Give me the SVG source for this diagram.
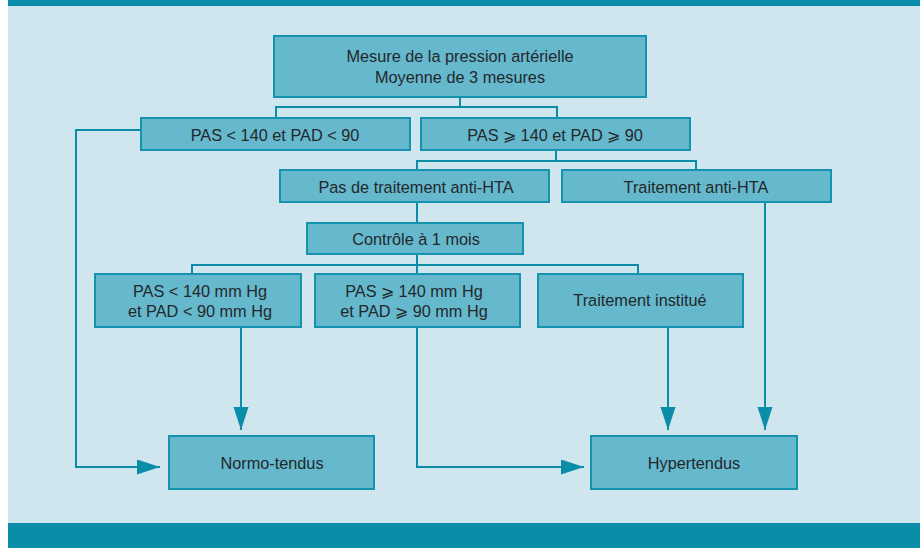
<svg xmlns="http://www.w3.org/2000/svg" width="920" height="548" viewBox="0 0 920 548">
<style>
.box{fill:#66b8cd;stroke:#1592ad;stroke-width:2}
.t{font-family:"Liberation Sans",Arial,sans-serif;font-size:16.3px;fill:#23282b;text-anchor:middle}
.c{fill:none;stroke:#0b8ca8;stroke-width:2}
</style>
<defs>
<marker id="ah" markerUnits="userSpaceOnUse" markerWidth="24" markerHeight="16" refX="23" refY="7.5" orient="auto">
<path d="M0,0 L23,7.5 L0,15 Z" fill="#0b8ca8"/>
</marker>
</defs>
<rect x="0" y="0" width="920" height="548" fill="#ffffff"/>
<rect x="8" y="6" width="912" height="517" fill="#cfe6ee"/>
<rect x="8" y="0" width="912" height="6" fill="#0b8ca8"/>
<rect x="8" y="523" width="912" height="25" fill="#0b8ca8"/>
<g id="connectors">
<path class="c" d="M460,98 V107 M276,118 V107 H557 V118"/>
<path class="c" d="M556,151 V161 M417,170 V161 H696 V170"/>
<path class="c" d="M417,203 V223"/>
<path class="c" d="M417,255 V274 M192,274 V265 H638 V274"/>
<path class="c" d="M140,130 H76 V467 H160" marker-end="url(#ah)"/>
<path class="c" d="M417,328 V467 H584" marker-end="url(#ah)"/>
<path class="c" d="M241,328 V430" marker-end="url(#ah)"/>
<path class="c" d="M668,328 V430" marker-end="url(#ah)"/>
<path class="c" d="M765,203 V430" marker-end="url(#ah)"/>
</g>
<g id="mesure"><rect class="box" x="274" y="36" width="372" height="61"/><text class="t" x="460" y="62">Mesure de la pression artérielle</text><text class="t" x="460" y="83">Moyenne de 3 mesures</text></g>
<g id="pas-bas"><rect class="box" x="141" y="118" width="269" height="32"/><text class="t" x="275" y="141">PAS &lt; 140 et PAD &lt; 90</text></g>
<g id="pas-haut"><rect class="box" x="421" y="118" width="269" height="32"/><text class="t" x="555" y="141">PAS ⩾ 140 et PAD ⩾ 90</text></g>
<g id="pas-traitement"><rect class="box" x="280" y="170" width="269" height="32"/><text class="t" x="416" y="193">Pas de traitement anti-HTA</text></g>
<g id="traitement"><rect class="box" x="562" y="170" width="269" height="32"/><text class="t" x="696" y="193">Traitement anti-HTA</text></g>
<g id="controle"><rect class="box" x="307" y="223" width="216" height="31"/><text class="t" x="416" y="245">Contrôle à 1 mois</text></g>
<g id="normal-mmhg"><rect class="box" x="95" y="274" width="206" height="53"/><text class="t" x="200" y="297">PAS &lt; 140 mm Hg</text><text class="t" x="200" y="317">et PAD &lt; 90 mm Hg</text></g>
<g id="haut-mmhg"><rect class="box" x="315" y="274" width="205" height="53"/><text class="t" x="414" y="297">PAS ⩾ 140 mm Hg</text><text class="t" x="414" y="317">et PAD ⩾ 90 mm Hg</text></g>
<g id="institue"><rect class="box" x="538" y="274" width="205" height="53"/><text class="t" x="640" y="306">Traitement institué</text></g>
<g id="normo"><rect class="box" x="169" y="436" width="205" height="53"/><text class="t" x="272" y="469">Normo-tendus</text></g>
<g id="hyper"><rect class="box" x="591" y="436" width="206" height="53"/><text class="t" x="694" y="469">Hypertendus</text></g>
</svg>
